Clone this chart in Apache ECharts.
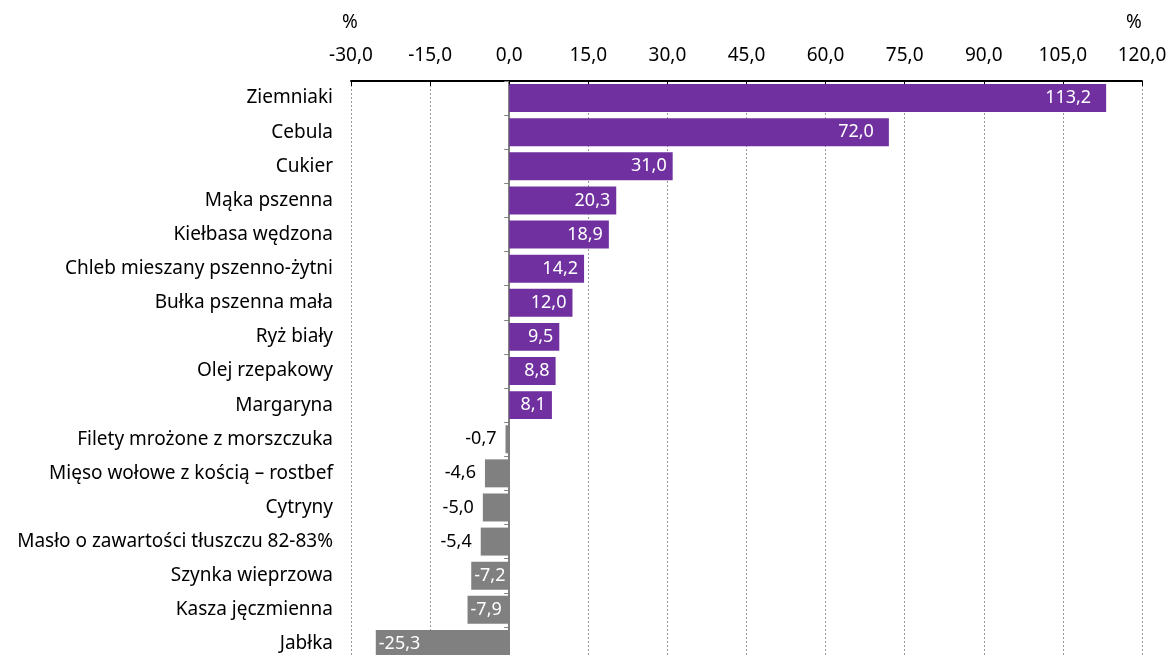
<!DOCTYPE html>
<html><head><meta charset="utf-8">
<script src="https://cdn.jsdelivr.net/npm/echarts@6/dist/echarts.min.js"></script>
<style>html,body{margin:0;padding:0;background:#fff}#c{width:1166px;height:655px}</style>
</head><body><div id="c"></div>
<script>
const categories = ["Ziemniaki","Cebula","Cukier","Mąka pszenna","Kiełbasa wędzona","Chleb mieszany pszenno-żytni","Bułka pszenna mała","Ryż biały","Olej rzepakowy","Margaryna","Filety mrożone z morszczuka","Mięso wołowe z kością – rostbef","Cytryny","Masło o zawartości tłuszczu 82-83%","Szynka wieprzowa","Kasza jęczmienna","Jabłka"];
const values = [113.2,72.0,31.0,20.3,18.9,14.2,12.0,9.5,8.8,8.1,-0.7,-4.6,-5.0,-5.4,-7.2,-7.9,-25.3];
const axisMin = -30, axisMax = 120, axisInterval = 15;
const unitLabel = "%";

const FONT = "Noto Sans";
const FS = 19;
const fmt = v => Number(v).toFixed(1).replace('.', ',');
const PURPLE = "#7030A0", GRAY = "#808080";
const GRID_LEFT = 351;

const data = values.map(v => {
  let label;
  if (v > 0) label = {position: 'insideRight', color: '#fff', distance: v > 50 ? 15 : 6};
  else if (v > -6) label = {position: 'left', color: '#000', distance: 9};
  else label = {position: 'insideLeft', color: '#fff', distance: 3};
  return {value: v, itemStyle: {color: v >= 0 ? PURPLE : GRAY}, label};
});

const chart = echarts.init(document.getElementById('c'), null, {renderer: 'canvas'});
const option = {
  animation: false,
  textStyle: {fontFamily: FONT},
  grid: {left: GRID_LEFT, right: 24, top: 81, bottom: -6, containLabel: false, outerBoundsMode: 'none'},
  xAxis: {
    type: 'value', position: 'top', min: axisMin, max: axisMax, interval: axisInterval,
    axisLine: {show: true, lineStyle: {color: '#000', width: 2}},
    axisTick: {show: true, inside: true, length: 5, lineStyle: {color: '#000'}},
    axisLabel: {formatter: fmt, color: '#000', fontSize: FS, margin: 16, fontFamily: FONT},
    splitLine: {show: true, lineStyle: {color: '#999', type: [2, 2], width: 1}}
  },
  yAxis: [{
    type: 'category', data: categories, inverse: true,
    axisLine: {show: false}, axisTick: {show: false},
    axisLabel: {color: '#000', fontSize: FS, margin: 18, fontFamily: FONT, padding: [3, 0, 0, 0]}
  }, {
    type: 'category', data: categories, inverse: true, position: 'left', offset: 0,
    axisLine: {show: true, onZero: false, lineStyle: {color: '#808080', width: 2}},
    axisTick: {show: true, length: 5, lineStyle: {color: '#808080'}},
    axisLabel: {show: false}
  }],
  series: [{
    type: 'bar', yAxisIndex: 0, data, barCategoryGap: '18%',
    label: {show: true, formatter: p => fmt(p.value), fontSize: 18, fontFamily: FONT}
  }],
  graphic: [
    {type: 'text', left: 342, top: 13, style: {text: unitLabel, fontSize: FS, fill: '#000', fontFamily: FONT}},
    {type: 'text', left: 1126, top: 13, style: {text: unitLabel, fontSize: FS, fill: '#000', fontFamily: FONT}}
  ]
};
chart.setOption(option);
const zeroPx = chart.convertToPixel({xAxisIndex: 0}, 0);
chart.setOption({yAxis: [{}, {offset: -(zeroPx - GRID_LEFT)}]});
</script></body></html>
